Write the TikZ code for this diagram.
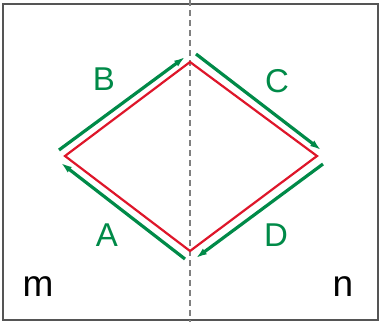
\documentclass[tikz,border=0pt]{standalone}
\usepackage{fontspec}
\setmainfont{Liberation Sans}
\usetikzlibrary{arrows.meta}
\definecolor{loopgreen}{RGB}{0,138,72}
\definecolor{loopred}{RGB}{222,22,42}
\definecolor{framegray}{RGB}{85,85,85}

\begin{document}
\begin{tikzpicture}[x=1pt, y=-1pt,
    flowarrow/.style={draw=loopgreen, line width=3.2pt, -{Latex[length=11pt,width=7pt]}},
    sidelabel/.style={text=loopgreen, font=\fontsize{33}{33}\selectfont, inner sep=0pt},
    regionlabel/.style={text=black, font=\fontsize{37}{37}\selectfont, inner sep=0pt}]
  \useasboundingbox (0,0) rectangle (381,322);
  \draw[framegray, line width=1.6pt] (3,4) rectangle (378,320);
  % boundary between the two regions
  \coordinate (top) at (190,0);
  \coordinate (bot) at (190,322);
  \draw[gray, line width=1.5pt, dash pattern=on 6pt off 4pt] (top) -- (bot);

  % corners of the loop
  \coordinate (west)  at (65,156);
  \coordinate (north) at (190,62);
  \coordinate (east)  at (317,156);
  \coordinate (south) at (190,251);
  \draw[loopred, line width=2.2pt] (west) -- (north) -- (east) -- (south) -- cycle;

  % path segments drawn just outside the loop
  \coordinate (a0) at (185,259);  \coordinate (a1) at (61,163);
  \coordinate (b0) at (59,150);   \coordinate (b1) at (185,57);
  \coordinate (c0) at (196,54);   \coordinate (c1) at (321,150);
  \coordinate (d0) at (323,164);  \coordinate (d1) at (196,258);
  \draw[flowarrow] (a0) -- (a1);
  \draw[flowarrow] (b0) -- (b1);
  \draw[flowarrow] (c0) -- (c1);
  \draw[flowarrow] (d0) -- (d1);

  \node[sidelabel] (labA) at (107,235) {A};
  \node[sidelabel] (labB) at (104,79) {B};
  \node[sidelabel] (labC) at (277,81) {C};
  \node[sidelabel] (labD) at (276,235) {D};

  \node[regionlabel] (labm) at (38,287) {m};
  \node[regionlabel] (labn) at (343,287) {n};
\end{tikzpicture}
\end{document}
